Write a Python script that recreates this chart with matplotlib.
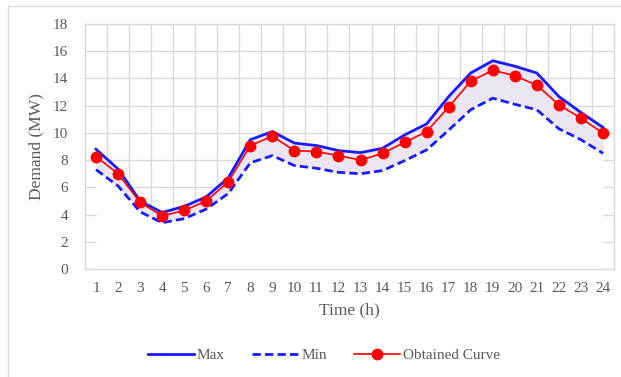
import numpy as np
import matplotlib.pyplot as plt
from matplotlib.patches import Rectangle
from matplotlib.lines import Line2D

# Data
hours = list(range(1, 25))
max_demand = [8.8, 7.35, 5.0, 4.15, 4.6, 5.3, 6.7, 9.5, 10.1, 9.25, 9.07, 8.7,
              8.55, 8.87, 9.85, 10.66, 12.67, 14.4, 15.3, 14.9, 14.4, 12.67, 11.5, 10.4]
min_demand = [7.3, 6.1, 4.2, 3.4, 3.7, 4.4, 5.55, 7.8, 8.33, 7.6, 7.4, 7.1,
              7.0, 7.23, 7.96, 8.75, 10.2, 11.7, 12.55, 12.1, 11.7, 10.3, 9.5, 8.5]
obtained = [8.26, 7.0, 4.9, 3.9, 4.3, 5.0, 6.4, 9.07, 9.75, 8.7, 8.63, 8.33,
            8.0, 8.5, 9.3, 10.1, 11.9, 13.8, 14.6, 14.2, 13.5, 12.06, 11.08, 9.98]
y_ticks = list(range(0, 19, 2))

plt.rcParams['font.family'] = ['Liberation Serif', 'DejaVu Serif']
text_color = '#595959'
grid_color = '#d9d9d9'

fig = plt.figure(figsize=(6.21, 3.77), dpi=100)
fig.patches.append(Rectangle((8 / 621, -0.1), 1.2, 1 - 6 / 377 + 0.1,
                             transform=fig.transFigure, fill=False,
                             edgecolor=grid_color, linewidth=1))

ax = fig.add_axes([85 / 621, 1 - 269 / 377, 529 / 621, 245 / 377])
x = np.arange(len(hours))

# white band below min hides the grid, lavender band between min and max
ax.fill_between(x, 0, min_demand, color='white', zorder=1, linewidth=0)
ax.fill_between(x, min_demand, max_demand, color='#ebe6f2', zorder=1, linewidth=0)

ax.plot(x, max_demand, color='#1a1aff', linewidth=2, zorder=3, label='Max')
ax.plot(x, min_demand, color='#1a1aff', linewidth=2, linestyle=(0, (3, 1.5)),
        zorder=3, label='Min')
ax.plot(x, obtained, color='#ff0000', linewidth=1.2, marker='o', markersize=7.5,
        zorder=4, label='Obtained Curve')

ax.set_xlim(-0.5, len(hours) - 0.5)
ax.set_ylim(0, 18)
ax.set_xticks(x)
ax.set_xticklabels([str(h) for h in hours])
ax.set_yticks(y_ticks)
ax.set_xticks(np.arange(-0.5, len(hours)), minor=True)
ax.tick_params(axis='both', which='both', length=0, labelsize=11, colors=text_color)
ax.tick_params(axis='x', pad=9)
ax.tick_params(axis='y', pad=12)

ax.grid(True, which='major', axis='y', color=grid_color, linewidth=1, zorder=0)
ax.grid(True, which='minor', axis='x', color=grid_color, linewidth=1, zorder=0)
ax.set_axisbelow(True)
for s in ax.spines.values():
    s.set_color(grid_color)
    s.set_linewidth(1)

ax.set_xlabel('Time (h)', fontsize=12.5, color=text_color, labelpad=6)
ax.set_ylabel('Demand (MW)', fontsize=12.5, color=text_color, labelpad=6)

handles = [Line2D([], [], color='#1a1aff', linewidth=2),
           Line2D([], [], color='#1a1aff', linewidth=2, linestyle=(0, (3, 1.5))),
           Line2D([], [], color='#ff0000', linewidth=1.2, marker='o', markersize=7.5)]
leg = fig.legend(handles, ['Max', 'Min', 'Obtained Curve'], loc='center',
                 bbox_to_anchor=(324 / 621, 1 - 355 / 377), ncol=3, frameon=False,
                 fontsize=11, handlelength=3.0, handletextpad=0.2, columnspacing=1.8)
for t in leg.get_texts():
    t.set_color(text_color)

fig.savefig('out.png', dpi=100)
